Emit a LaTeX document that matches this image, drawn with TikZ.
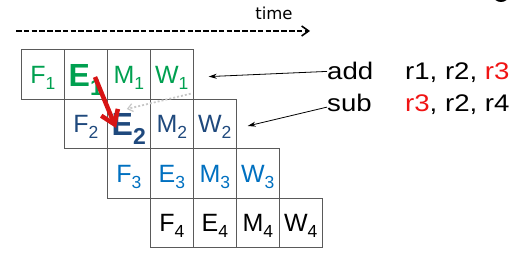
\documentclass[tikz,border=0pt]{standalone}
\usepackage{graphicx}
\usepackage{fontspec}
\setmainfont{Liberation Sans}
\newfontfamily\timefont{DejaVu Sans}
\usetikzlibrary{arrows.meta,calc}
\definecolor{pgreen}{RGB}{0,160,80}
\definecolor{pdblue}{RGB}{31,73,125}
\definecolor{plblue}{RGB}{0,112,192}
\definecolor{pred}{RGB}{215,20,20}
\definecolor{rtext}{RGB}{240,20,20}
\definecolor{cellline}{RGB}{90,90,90}
\definecolor{dotgray}{RGB}{200,200,200}
\newcommand\stg[2]{#1\raisebox{-6pt}{\fontsize{17.5}{17.5}\selectfont #2}}
\newcommand\bstg[2]{\textbf{#1\raisebox{-9.4pt}{\fontsize{23}{23}\selectfont\bfseries #2}}}
\newcommand\widetext[1]{\scalebox{1.15}[1]{#1}}
\begin{document}
\begin{tikzpicture}[x=1pt,y=-1pt,
  cell/.style={draw=cellline,line width=0.8pt,minimum width=43pt,minimum height=49.4pt,
    inner sep=0pt,text height=17.9pt,text depth=0pt,font=\fontsize{25}{25}\selectfont},
  boldcell/.style={cell,text height=23pt,font=\fontsize{32}{32}\selectfont},
  lbl/.style={inner sep=0pt,anchor=base west,font=\fontsize{24}{24}\selectfont},
  ptr/.style={-{Stealth[length=8pt,width=5pt]},line width=0.8pt}
]
\useasboundingbox (0,0) rectangle (517,275);
\clip (0,0) rectangle (517,275);
% row 1
\node[cell,text=pgreen] (F1) at (42.8,74.6) {\stg{F}{1}};
\node[boldcell,text=pgreen] (E1) at (85.8,74.6) {\bstg{E}{1}};
\node[cell,text=pgreen] (M1) at (128.8,74.6) {\stg{M}{1}};
\node[cell,text=pgreen] (W1) at (171.8,74.6) {\stg{W}{1}};
% row 2
\node[cell,text=pdblue] (F2) at (85.8,124) {\stg{F}{2}};
\node[boldcell,text=pdblue] (E2) at (128.8,124) {\bstg{E}{2}};
\node[cell,text=pdblue] (M2) at (171.8,124) {\stg{M}{2}};
\node[cell,text=pdblue] (W2) at (214.8,124) {\stg{W}{2}};
% row 3
\node[cell,text=plblue] (F3) at (128.8,173.4) {\stg{F}{3}};
\node[cell,text=plblue] (E3) at (171.8,173.4) {\stg{E}{3}};
\node[cell,text=plblue] (M3) at (214.8,173.4) {\stg{M}{3}};
\node[cell,text=plblue] (W3) at (257.8,173.4) {\stg{W}{3}};
% row 4
\node[cell,text=black] (F4) at (171.8,222.8) {\stg{F}{4}};
\node[cell,text=black] (E4) at (214.8,222.8) {\stg{E}{4}};
\node[cell,text=black] (M4) at (257.8,222.8) {\stg{M}{4}};
\node[cell,text=black] (W4) at (300.8,222.8) {\stg{W}{4}};
% time axis
\node[inner sep=0pt,anchor=base,font=\timefont\fontsize{16.5}{16.5}\selectfont] (time) at (274,19.3) {time};
\coordinate (ts) at (16,31);
\coordinate (te) at (310,31);
\draw[dash pattern=on 5.5pt off 2.3pt,line width=2.2pt,
  -{Straight Barb[length=7pt,width=10pt,line width=1.6pt]}] (ts) -- (te);
% instructions
\node[lbl] (add) at (327,80) {\widetext{add}};
\node[lbl] (addops) at (405,80) {\widetext{r1, r2, \textcolor{rtext}{r3}}};
\node[lbl] (sub) at (327,111.7) {\widetext{sub}};
\node[lbl] (subops) at (405,111.7) {\widetext{\textcolor{rtext}{r3}, r2, r4}};
\draw[ptr] (add.west) -- ($(W1.east)+(15,2)$);
\draw[ptr] ([yshift=-4pt]sub.west) -- ($(W2.east)+(11,2)$);
% dependency arrows
\draw[dotgray,line width=1.8pt,dash pattern=on 2pt off 2pt,
  -{Straight Barb[length=5pt,width=8pt,line width=1.2pt]}]
  ($(W1.south east)+(-3,-6)$) -- ($(E2.center)+(-2,-15)$);
\draw[pred,line width=4.5pt,-{Straight Barb[length=13pt,width=18pt]}]
  ($(E1.center)+(9.2,2.4)$) -- ($(E2.center)+(-12.8,4)$);
% fragment at top right
\fill (501,-5) ellipse [x radius=8pt,y radius=7pt];
\end{tikzpicture}
\end{document}
